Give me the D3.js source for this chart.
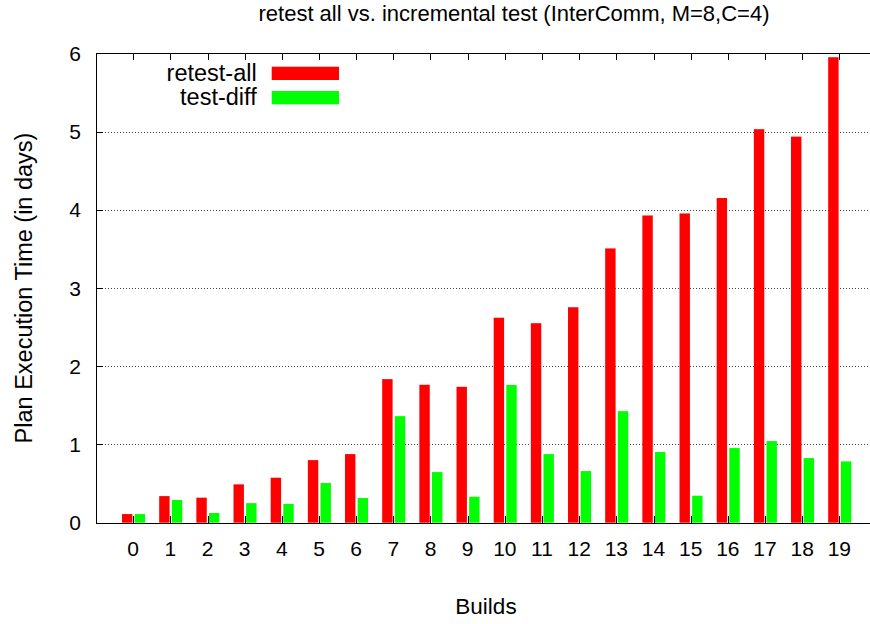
<!DOCTYPE html>
<html>
<head>
<meta charset="utf-8">
<script src="https://cdn.jsdelivr.net/npm/d3@7"></script>
<style>
  html, body { margin: 0; padding: 0; background: #fff; }
  svg { display: block; }
  text { font-family: "Liberation Sans", Arial, Helvetica, sans-serif; fill: #000; }
</style>
</head>
<body>
<svg id="chart" width="870" height="624"></svg>
<script>
// Build numbers on the x axis
const builds = [0, 1, 2, 3, 4, 5, 6, 7, 8, 9, 10, 11, 12, 13, 14, 15, 16, 17, 18, 19];
// Plan execution time in days, full retest of every build
const retestAll = [0.11, 0.34, 0.32, 0.49, 0.575, 0.80, 0.877, 1.835, 1.763, 1.737,
                   2.62, 2.55, 2.754, 3.506, 3.927, 3.953, 4.15, 5.03, 4.935, 5.95];
// Plan execution time in days, incremental testing of the diff only
const testDiff = [0.11, 0.29, 0.124, 0.25, 0.24, 0.507, 0.315, 1.362, 0.647, 0.332,
                  1.76, 0.877, 0.66, 1.426, 0.903, 0.345, 0.954, 1.043, 0.826, 0.784];
const yTicks = [0, 1, 2, 3, 4, 5, 6];
const seriesNames = ["retest-all", "test-diff"];
const seriesColors = ["#ff0000", "#00ff00"];

const svg = d3.select("#chart");

const x = d3.scaleLinear().domain([-1, 20]).range([96, 876.5]);
const y = d3.scaleLinear().domain([0, 6]).range([522.7, 53.3]);

const plotLeft = x(-1), plotRight = x(20), plotTop = y(6), plotBottom = y(0);

// dotted horizontal grid
svg.append("g")
  .selectAll("line")
  .data(yTicks.filter(v => v > 0 && v < 6))
  .join("line")
  .attr("x1", plotLeft).attr("x2", plotRight)
  .attr("y1", d => Math.round(y(d)) + 0.5).attr("y2", d => Math.round(y(d)) + 0.5)
  .attr("stroke", "#444")
  .attr("stroke-width", 1)
  .attr("stroke-dasharray", "1,2");

// clustered bars
const barW = 0.28;
const offsets = [-0.30, 0.04];
const series = [retestAll, testDiff];
series.forEach((vals, si) => {
  svg.append("g")
    .selectAll("rect")
    .data(builds)
    .join("rect")
    .attr("x", (b) => x(b + offsets[si]))
    .attr("width", x(barW) - x(0))
    .attr("y", (b, i) => y(vals[i]))
    .attr("height", (b, i) => y(0) - y(vals[i]))
    .attr("fill", seriesColors[si]);
});

// frame
svg.append("rect")
  .attr("x", Math.round(plotLeft) + 0.5)
  .attr("y", Math.round(plotTop) + 0.5)
  .attr("width", Math.round(plotRight) - Math.round(plotLeft))
  .attr("height", Math.round(plotBottom) - Math.round(plotTop))
  .attr("fill", "none")
  .attr("stroke", "#000")
  .attr("stroke-width", 1);

// inward ticks on the bottom and mirrored on the top
const tickLen = 7;
const tickG = svg.append("g").attr("stroke", "#000").attr("stroke-width", 1);
tickG.selectAll("line.bt")
  .data(builds)
  .join("line")
  .attr("class", "bt")
  .attr("x1", d => Math.round(x(d)) + 0.5).attr("x2", d => Math.round(x(d)) + 0.5)
  .attr("y1", Math.round(plotBottom)).attr("y2", Math.round(plotBottom) - tickLen);
tickG.selectAll("line.tt")
  .data(builds)
  .join("line")
  .attr("class", "tt")
  .attr("x1", d => Math.round(x(d)) + 0.5).attr("x2", d => Math.round(x(d)) + 0.5)
  .attr("y1", Math.round(plotTop)).attr("y2", Math.round(plotTop) + tickLen);
tickG.selectAll("line.lt")
  .data(yTicks)
  .join("line")
  .attr("class", "lt")
  .attr("x1", Math.round(plotLeft)).attr("x2", Math.round(plotLeft) + tickLen)
  .attr("y1", d => Math.round(y(d)) + 0.5).attr("y2", d => Math.round(y(d)) + 0.5);

// tick labels
svg.append("g")
  .selectAll("text")
  .data(builds)
  .join("text")
  .attr("x", d => x(d))
  .attr("y", 556)
  .attr("text-anchor", "middle")
  .style("font-size", "21px")
  .text(d => d);

svg.append("g")
  .selectAll("text")
  .data(yTicks)
  .join("text")
  .attr("x", 81)
  .attr("y", d => y(d) + 7.5)
  .attr("text-anchor", "end")
  .style("font-size", "21px")
  .text(d => d);

// title and axis labels
svg.append("text")
  .attr("x", 514).attr("y", 21)
  .attr("text-anchor", "middle")
  .style("font-size", "22px")
  .text("retest all vs. incremental test (InterComm, M=8,C=4)");

svg.append("text")
  .attr("transform", "translate(32,288) rotate(-90)")
  .attr("text-anchor", "middle")
  .style("font-size", "23.5px")
  .text("Plan Execution Time (in days)");

svg.append("text")
  .attr("x", 486).attr("y", 614)
  .attr("text-anchor", "middle")
  .style("font-size", "22.5px")
  .text("Builds");

// legend
const legend = svg.append("g");
const legendRows = [{ y: 66.7 }, { y: 91 }];
seriesNames.forEach((name, i) => {
  const ry = legendRows[i].y;
  legend.append("text")
    .attr("x", 256.7).attr("y", ry + 14)
    .attr("text-anchor", "end")
    .style("font-size", "23.5px")
    .text(name);
  legend.append("rect")
    .attr("x", 271.7).attr("y", ry)
    .attr("width", 67.3).attr("height", 13.3)
    .attr("fill", seriesColors[i]);
});
</script>
</body>
</html>
